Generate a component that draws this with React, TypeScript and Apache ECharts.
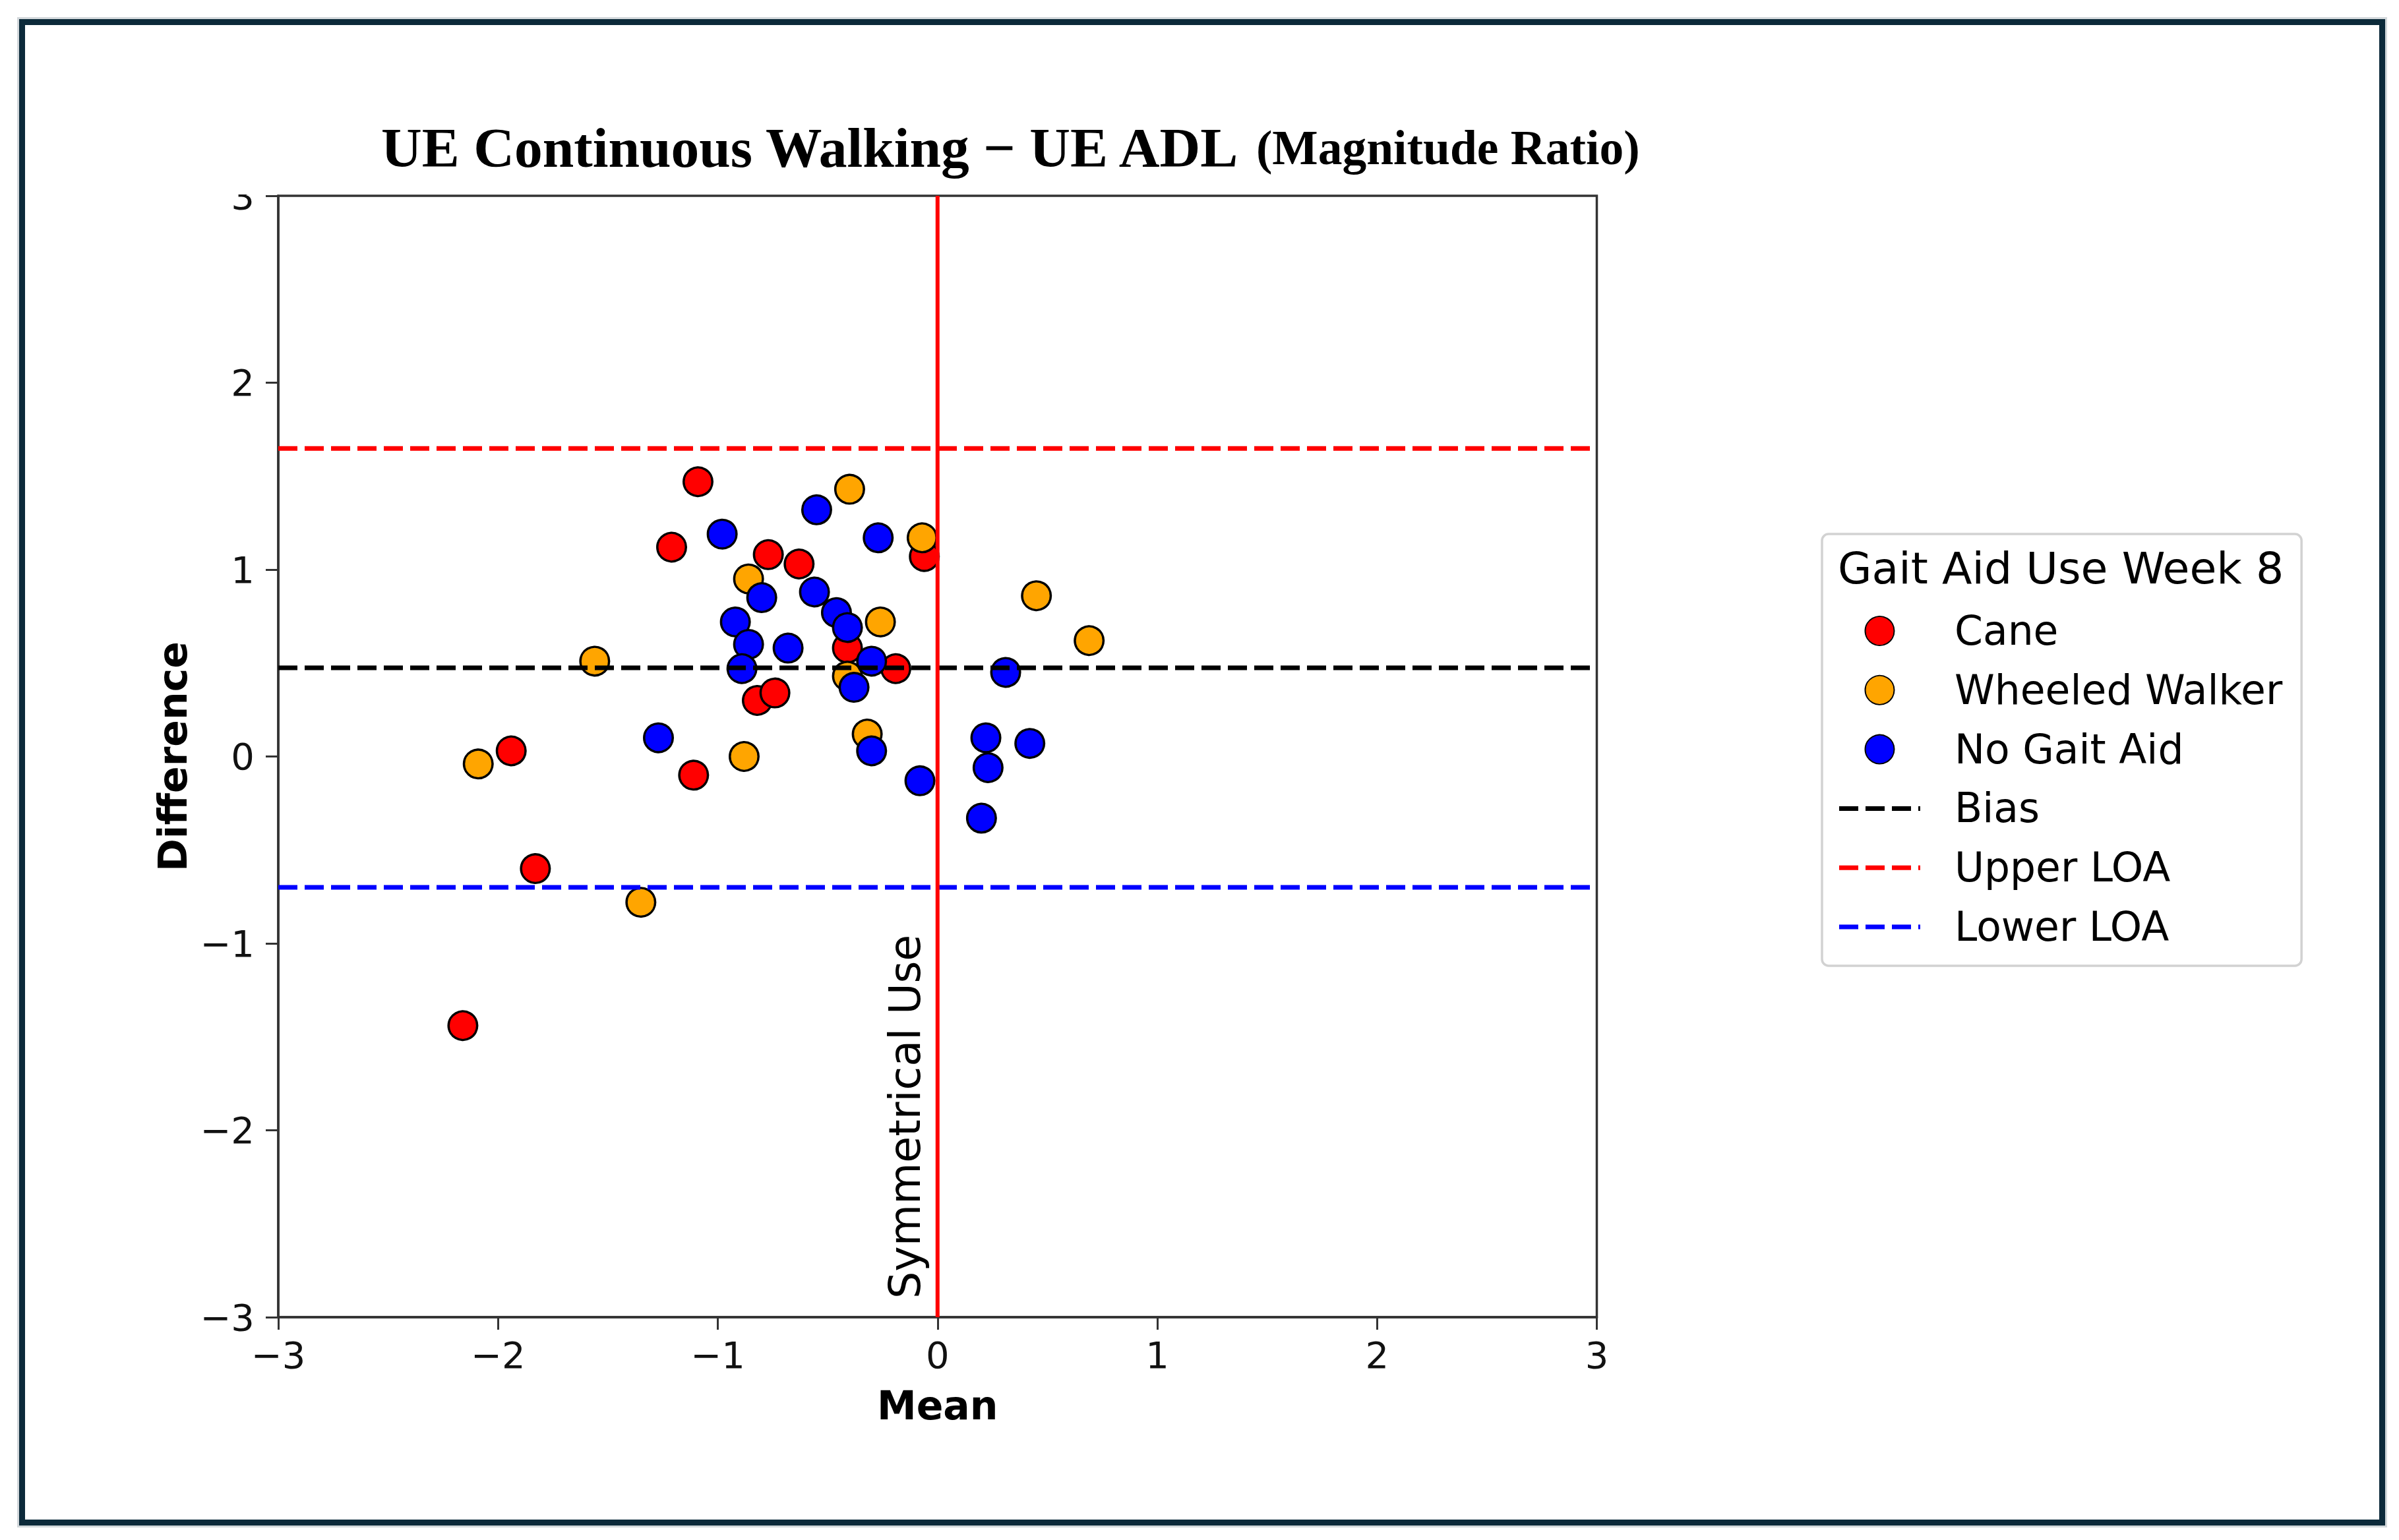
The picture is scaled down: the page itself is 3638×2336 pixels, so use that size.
import React, { useEffect, useRef } from "react";
import * as echarts from "echarts";

// ---- data ----
const caneMean = [-1.09, -1.21, -0.77, -0.63, -0.06, -0.41, -0.19, -0.82, -0.74, -1.94, -1.11, -1.83, -2.16];
const caneDiff = [1.47, 1.12, 1.08, 1.03, 1.07, 0.58, 0.47, 0.3, 0.34, 0.03, -0.1, -0.6, -1.44];

const walkerMean = [-0.4, -0.07, -0.86, -0.26, -1.56, -0.41, -2.09, -0.88, -0.32, -1.35, 0.45, 0.69];
const walkerDiff = [1.43, 1.17, 0.95, 0.72, 0.51, 0.43, -0.04, 0.0, 0.12, -0.78, 0.86, 0.62];

const noAidMean = [-0.55, -0.98, -0.27, -0.8, -0.56, -0.46, -0.41, -0.92, -0.86, -0.68, -0.89, -0.3, -0.38, -1.27, -0.3, -0.08, 0.31, 0.22, 0.42, 0.23, 0.2];
const noAidDiff = [1.32, 1.19, 1.17, 0.85, 0.88, 0.77, 0.69, 0.72, 0.6, 0.58, 0.47, 0.51, 0.37, 0.1, 0.03, -0.13, 0.45, 0.1, 0.07, -0.06, -0.33];

const biasValue = 0.474;
const upperLOA = 1.648;
const lowerLOA = -0.7;
const symmetricalUseX = 0;

const axisMin = -3;
const axisMax = 3;
const axisStep = 1;

const groupNames = ["Cane", "Wheeled Walker", "No Gait Aid"];
const lineNames = ["Bias", "Upper LOA", "Lower LOA"];
const legendTitle = "Gait Aid Use Week 8";
const titleMain = "UE Continuous Walking \u2212 UE ADL";
const titleSub = "(Magnitude Ratio)";

const W = 3638;
const H = 2336;

const zip = (xs: number[], ys: number[]) => xs.map((x, i) => [x, ys[i]]);
const fmt = (v: number) => (v < 0 ? "\u2212" + Math.abs(v) : String(v));

const SANS = "DejaVu Sans";
const SERIF = "'Liberation Serif', 'Times New Roman', serif";
const AXIS_COLOR = "#333";

const dashIcon = "path://M0,0h29v7h-29zM40,0h29v7h-29zM80,0h29v7h-29zM120,0h3v7h-3z";

function scatterSeries(name: string, color: string, xs: number[], ys: number[], z: number) {
  return {
    type: "scatter",
    name,
    data: zip(xs, ys),
    symbol: "circle",
    symbolSize: 43.5,
    itemStyle: { color, borderColor: "#000", borderWidth: 3.5, opacity: 1 },
    emphasis: { disabled: true },
    z,
  };
}

function hLine(name: string, color: string, y: number) {
  return {
    type: "line",
    name,
    data: [
      [axisMin, y],
      [axisMax, y],
    ],
    symbol: "none",
    lineStyle: { color, width: 7, type: [29, 11] },
    itemStyle: { color },
    emphasis: { disabled: true },
    silent: true,
    z: 10,
  };
}

export default function App() {
  const ref = useRef<HTMLDivElement>(null);

  useEffect(() => {
    if (!ref.current) return;
    const chart = echarts.init(ref.current, null, { renderer: "svg", width: W, height: H });

    const axisCommon = {
      type: "value",
      min: axisMin,
      max: axisMax,
      interval: axisStep,
      splitLine: { show: false },
      axisLine: { show: true, onZero: false, lineStyle: { color: AXIS_COLOR, width: 3.5 } },
      axisTick: { show: true, length: 19, lineStyle: { color: AXIS_COLOR, width: 3 } },
      axisLabel: {
        show: true,
        fontFamily: SANS,
        fontSize: 56,
        color: "#111",
        formatter: fmt,
        showMinLabel: true,
        showMaxLabel: true,
      },
      nameLocation: "middle",
      nameMoveOverlap: false,
      nameTextStyle: { fontFamily: SANS, fontSize: 60, fontWeight: "bold", color: "#000" },
    };

    chart.setOption({
      animation: false,
      backgroundColor: "#fff",
      title: {
        text: `{a|${titleMain} }{b|${titleSub}}`,
        left: 578,
        top: 181,
        padding: 0,
        textStyle: {
          rich: {
            a: { fontFamily: SERIF, fontWeight: "bold", fontSize: 85.5, color: "#000" },
            b: { fontFamily: SERIF, fontWeight: "bold", fontSize: 73.5, color: "#000" },
          },
        },
      },
      grid: {
        left: 422,
        top: 297,
        right: W - 2421.5,
        bottom: H - 1998,
        show: true,
        borderColor: AXIS_COLOR,
        borderWidth: 3.5,
        backgroundColor: "transparent",
        containLabel: false,
        outerBoundsMode: "none",
      },
      xAxis: {
        ...axisCommon,
        name: "Mean",
        nameGap: 104,
        axisLabel: { ...axisCommon.axisLabel, margin: 29 },
      },
      yAxis: {
        ...axisCommon,
        name: "Difference",
        nameGap: 130,
        nameRotate: 90,
        axisLabel: { ...axisCommon.axisLabel, margin: 36 },
      },
      legend: {
        orient: "vertical",
        left: 2763,
        top: 810,
        padding: [116, 29, 28, 26],
        itemWidth: 123,
        itemHeight: 44,
        itemGap: 27.8,
        selectedMode: false,
        backgroundColor: "rgba(255,255,255,0.8)",
        borderColor: "#d2d2d2",
        borderWidth: 3.5,
        borderRadius: 10,
        textStyle: {
          fontFamily: SANS,
          fontSize: 61.5,
          lineHeight: 60,
          color: "#000",
          padding: [0, 0, 0, 47],
        },
        data: [
          { name: groupNames[0], icon: "circle" },
          { name: groupNames[1], icon: "circle" },
          { name: groupNames[2], icon: "circle" },
          { name: lineNames[0], icon: dashIcon, itemStyle: { borderWidth: 0 } },
          { name: lineNames[1], icon: dashIcon, itemStyle: { borderWidth: 0 } },
          { name: lineNames[2], icon: dashIcon, itemStyle: { borderWidth: 0 } },
        ],
      },
      series: [
        scatterSeries(groupNames[0], "#ff0000", caneMean, caneDiff, 3),
        scatterSeries(groupNames[1], "#ffa500", walkerMean, walkerDiff, 4),
        scatterSeries(groupNames[2], "#0000ff", noAidMean, noAidDiff, 5),
        hLine(lineNames[0], "#000000", biasValue),
        hLine(lineNames[1], "#ff0000", upperLOA),
        hLine(lineNames[2], "#0000ff", lowerLOA),
        {
          type: "line",
          name: "Symmetrical Use",
          data: [
            [symmetricalUseX, axisMin],
            [symmetricalUseX, axisMax],
          ],
          symbol: "none",
          lineStyle: { color: "#ff0000", width: 6, type: "solid" },
          itemStyle: { color: "#ff0000" },
          emphasis: { disabled: true },
          silent: true,
          z: 11,
        },
      ],
    });

    const base = chart.convertToPixel({ gridIndex: 0 }, [symmetricalUseX, axisMin]) as number[];
    const topLeft = chart.convertToPixel({ gridIndex: 0 }, [axisMin, axisMax]) as number[];

    chart.setOption({
      graphic: [
        {
          id: "halo",
          type: "rect",
          silent: true,
          z: 0,
          shape: { x: 27.5, y: 27.5, width: 3591, height: 2288 },
          style: { fill: "none", stroke: "#d3d8db", lineWidth: 3 },
        },
        {
          id: "frame",
          type: "rect",
          silent: true,
          z: 1,
          shape: { x: 33.5, y: 33.5, width: 3579, height: 2276 },
          style: { fill: "none", stroke: "#0c2a3a", lineWidth: 9 },
        },
        {
          id: "cover3",
          type: "rect",
          silent: true,
          z: 100,
          shape: { x: topLeft[0] - 92, y: topLeft[1] - 50, width: 72, height: 48 },
          style: { fill: "#fff" },
        },
        {
          id: "symText",
          type: "text",
          silent: true,
          z: 50,
          x: base[0] - 17,
          y: base[1] - 28,
          rotation: Math.PI / 2,
          style: {
            text: "Symmetrical Use",
            fontFamily: SANS,
            fontSize: 65,
            fill: "#000",
            align: "left",
            verticalAlign: "bottom",
          },
        },
        {
          id: "legendTitle",
          type: "text",
          silent: true,
          z: 50,
          x: 2787,
          y: 862,
          style: {
            text: legendTitle,
            fontFamily: SANS,
            fontSize: 66.5,
            fill: "#000",
            align: "left",
            verticalAlign: "middle",
          },
        },
      ],
    });

    return () => chart.dispose();
  }, []);

  return (
    <div
      ref={ref}
      style={{ position: "fixed", left: 0, top: 0, width: W, height: H, background: "#fff" }}
    />
  );
}
